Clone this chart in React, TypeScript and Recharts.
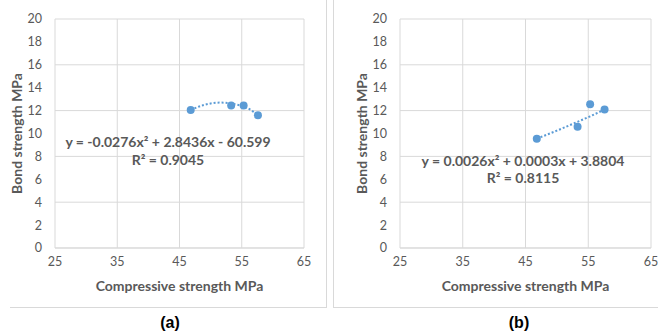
import { ComposedChart, Scatter, Line, XAxis, YAxis, CartesianGrid, ReferenceDot } from 'recharts'

// compressive strength (MPa) for the four mixes, same in both panels
const compressive = [46.8, 53.3, 55.3, 57.6]
const bondA = [12.05, 12.45, 12.45, 11.6]
const bondB = [9.55, 10.6, 12.55, 12.1]

// dotted trendlines
const trendAx = [46.8, 49, 51.5, 54, 56, 57.6]
const trendAy = [12.05, 12.5, 12.7, 12.55, 12.2, 11.6]
const trendBx = [46.8, 50, 53, 55.3, 57.6]
const trendBy = [9.55, 10.25, 10.95, 11.5, 12.1]

const xTicks = [25, 35, 45, 55, 65]
const yTicks = [0, 2, 4, 6, 8, 10, 12, 14, 16, 18, 20]

const eqA = ['y = -0.0276x² + 2.8436x  - 60.599', 'R² = 0.9045']
const eqB = ['y = 0.0026x² + 0.0003x + 3.8804', 'R² = 0.8115']

const BLUE = '#5b9bd5'
const GRID = '#d9d9d9'
const TEXT = '#595959'
const FONT = 'Lato, "Open Sans", sans-serif'

interface PanelProps {
  bond: number[]
  tx: number[]
  ty: number[]
  eq: string[]
  eqPos: { x: number; y1: number; y2: number }
  yAxisWidth: number
  titleOffset: number
  width: number
  right: number
}

function Panel({ bond, tx, ty, eq, eqPos, yAxisWidth, titleOffset, width, right }: PanelProps) {
  const points = compressive.map((x, i) => ({ x, y: bond[i] }))
  const trend = tx.map((x, i) => ({ x, t: ty[i] }))
  const tick = { fill: TEXT, fontSize: 12.5, fontFamily: FONT }
  const eqStyle = { fill: TEXT, fontSize: 14, fontWeight: 700, fontFamily: FONT }
  const titleStyle = { fill: TEXT, fontSize: 14, fontWeight: 700, fontFamily: FONT }

  return (
    <ComposedChart width={width} height={308} margin={{ top: 19, right, left: 0, bottom: 0 }}>
      <CartesianGrid stroke={GRID} strokeWidth={1} />
      <XAxis
        type="number"
        dataKey="x"
        domain={[25, 65]}
        ticks={xTicks}
        height={60}
        tick={tick}
        tickLine={false}
        tickMargin={3}
        axisLine={{ stroke: GRID }}
        label={{ value: 'Compressive strength MPa', position: 'insideBottom', offset: 17, style: titleStyle }}
      />
      <YAxis
        type="number"
        dataKey="y"
        domain={[0, 20]}
        ticks={yTicks}
        width={yAxisWidth}
        tick={tick}
        tickLine={false}
        tickMargin={7}
        axisLine={false}
        label={{
          value: 'Bond strength MPa',
          angle: -90,
          position: 'insideLeft',
          offset: titleOffset,
          style: { ...titleStyle, textAnchor: 'middle' },
        }}
      />
      <Line
        data={trend}
        dataKey="t"
        type="monotone"
        stroke={BLUE}
        strokeWidth={2}
        strokeDasharray="2 2"
        dot={false}
        isAnimationActive={false}
      />
      <Scatter data={points} fill={BLUE} shape={(p: any) => <circle cx={p.cx} cy={p.cy} r={4} fill={BLUE} />} isAnimationActive={false} />
      <ReferenceDot x={eqPos.x} y={eqPos.y1} r={0} ifOverflow="visible" label={{ value: eq[0], position: 'center', style: eqStyle }} />
      <ReferenceDot x={eqPos.x} y={eqPos.y2} r={0} ifOverflow="visible" label={{ value: eq[1], position: 'center', style: eqStyle }} />
    </ComposedChart>
  )
}

export default function App() {
  return (
    <div style={{ position: 'absolute', left: 0, top: 0, width: 658, height: 334, background: '#fff', overflow: 'hidden' }}>
      <div style={{ position: 'absolute', left: 10, top: -5, width: 316, height: 312, borderRight: `1px solid ${GRID}`, borderBottom: `1px solid ${GRID}` }} />
      <div style={{ position: 'absolute', left: 333, top: -5, width: 330, height: 312, borderLeft: `1px solid ${GRID}`, borderBottom: `1px solid ${GRID}` }} />
      <div style={{ position: 'absolute', left: 0, top: 0 }}>
        <Panel bond={bondA} tx={trendAx} ty={trendAy} eq={eqA} eqPos={{ x: 43.15, y1: 9.28, y2: 7.65 }} yAxisWidth={55} titleOffset={17} width={325} right={21} />
      </div>
      <div style={{ position: 'absolute', left: 334, top: 0 }}>
        <Panel bond={bondB} tx={trendBx} ty={trendBy} eq={eqB} eqPos={{ x: 44.6, y1: 7.6, y2: 6.11 }} yAxisWidth={66} titleOffset={28} width={324} right={7} />
      </div>
      <div style={{ position: 'absolute', left: 150, top: 314, width: 40, textAlign: 'center', fontFamily: 'Arial, sans-serif', fontWeight: 700, fontSize: 16, color: '#000' }}>(a)</div>
      <div style={{ position: 'absolute', left: 499, top: 314, width: 40, textAlign: 'center', fontFamily: 'Arial, sans-serif', fontWeight: 700, fontSize: 16, color: '#000' }}>(b)</div>
    </div>
  )
}
